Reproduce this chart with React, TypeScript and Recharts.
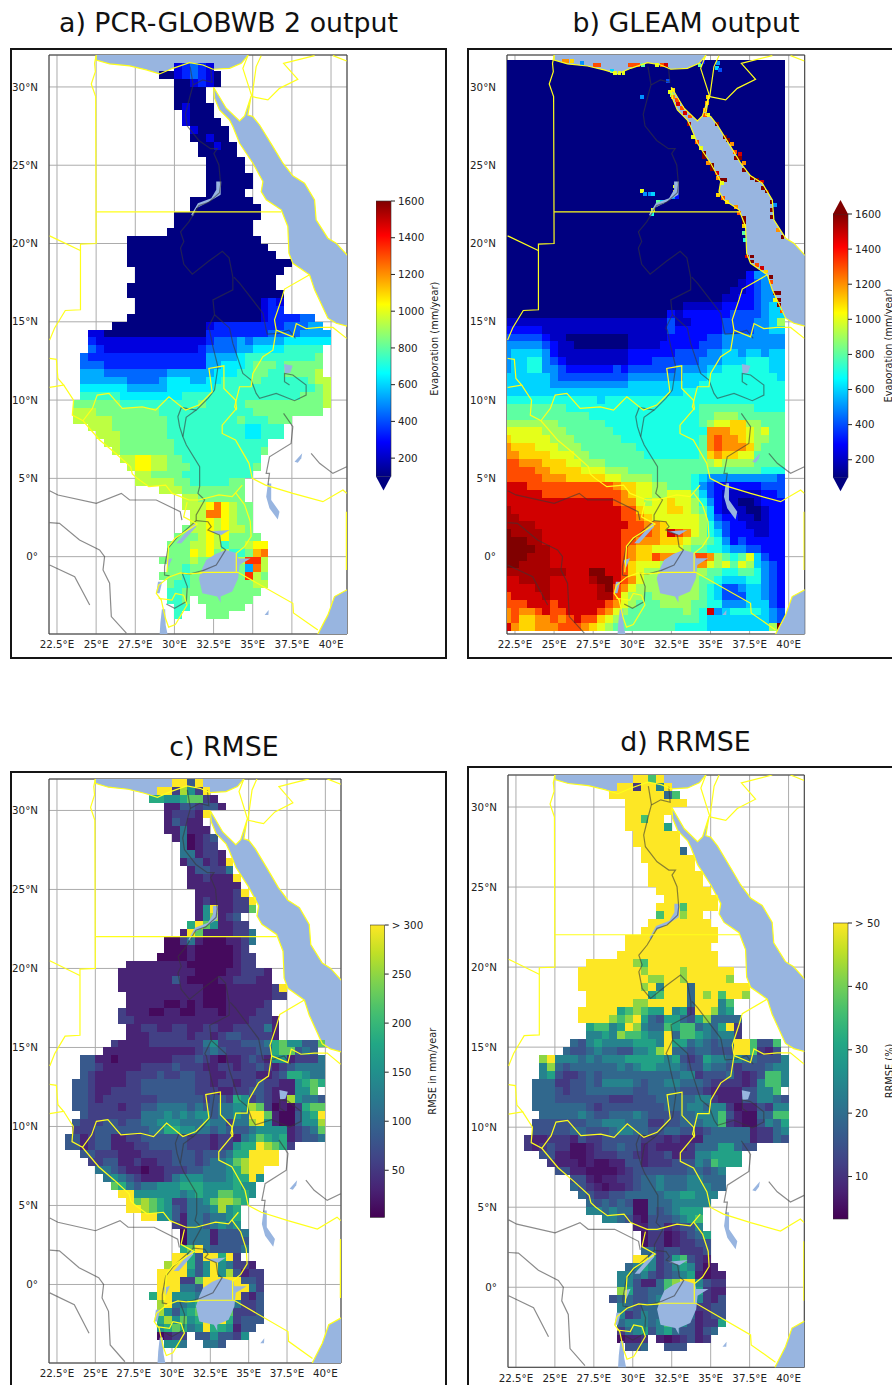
import React from 'react';
import { ScatterChart, Scatter, XAxis, YAxis, CartesianGrid, ReferenceArea } from 'recharts';

type Row = [number, string];
type Pt = [number, number];
type Spot = [number, number, string];

const lonTicks = [22.5, 25, 27.5, 30, 32.5, 35, 37.5, 40];
const latTicks = [0, 5, 10, 15, 20, 25, 30];
const evapTicks = [200, 400, 600, 800, 1000, 1200, 1400, 1600];
const rmseTicks = [50, 100, 150, 200, 250, 300];
const rrmseTicks = [10, 20, 30, 40, 50];

// value of each digit in the RMSE / RRMSE rows (evaporation rows use base 36 x 100)
const rmseLevels = [10, 32, 58, 85, 118, 150, 185, 225, 260, 300];
const rrmseLevels = [5.5, 8, 11, 15, 19, 24, 30, 36, 42, 50];

// rows run north to south in half degree steps, [first column, values]; '.' is no data
const pcrRows: Row[] = [
  [0, ''], [16, '23432'], [14, '11234321'], [16, '112321'], [16, '1111'], [16, '1111'], [16, '12111'], [17, '2111'],
  [17, '21111'], [18, '21111'], [18, '11211'], [19, '11211'], [19, '11111'], [20, '11111'], [20, '11111'], [20, '111111'],
  [20, '111111'], [20, '11111'], [18, '11111111'], [18, '111111111'], [16, '11111111111'], [16, '1111111111'],
  [15, '11111111111'], [10, '11111111111111111'], [10, '111111111111111111'], [10, '1111111111111111111'],
  [10, '111111111111111111111'], [11, '1111111111111111111'], [11, '111111111111111111'], [10, '1111111111111111111'],
  [10, '11111111111111111111'], [11, '1111111111111111232'], [11, '1111111111111111233'],
  [10, '11111111111111111 2333344'],
  [8, '111111111111 2333333 33344455'],
  [5, '221111111111111 333333 3344445555'],
  [5, '322222222222222 3444 5455 5566 6666'],
  [5, '432222222222223 4444 5566 6677 777'],
  [4, '4333333333333333 5555 6777 7777 778'],
  [4, '4443333333333333 5566 6788 8788 888'],
  [4, '5554444444455555 5666 7788 7788 889'],
  [4, '5555554444566655 6677 7787 7777 7899'],
  [4, '6666665555566666 6777 7777 7777 7789'],
  [4, '7777766666666777 7777 7777 7777 8889'],
  [3, '8 8888877777777778 7777 7888 8888 8889'],
  [3, '9 9988888888777777 7777 7788 8888 888'],
  [3, '9 9999888888877777 7777 8777 888'],
  [5, '999888888877777 7777 7667 77'],
  [6, '99988888877777 7777 7667 77'],
  [7, '9988888887777 7777 7777'],
  [8, '988888887777 7777 7778'],
  [9, '99aa9988777 7777 777'],
  [10, '9aa9988877 7777 778'],
  [11, '998888777 7777 77'],
  [11, '999998877 7778 8'],
  [14, '999888 8888 8'],
  [17, '9988 8888'],
  [17, '999acа988'.replace('а', 'a')],
  [18, '99cca988'],
  [18, '99a9a988'],
  [17, '899a9a998'],
  [16, '8889a9a8888'],
  [15, '88899a97889aa'],
  [15, '888a9a89778bc'],
  [14, '88889888889dd9'],
  [15, '88788888885c9'],
  [14, '88878888888d98'],
  [15, '8778888888899'],
  [15, '778888888888'],
  [15, '778.8888888'],
  [16, '77..88888'],
  [16, '7...888'],
];

// GLEAM grid is offset a quarter degree and runs under the sea fill
const gleamRows: Row[] = [
  ...Array.from({ length: 27 }, (): Row => [0, '111111 111111 111111 111111 111111 111111']),
  [0, '111111 111111 111111 111111 111111 135551'],
  [0, '111111 111111 111111 111111 111111 234555'],
  [0, '111111 111111 111111 111111 111112 234555'],
  [0, '111111 111111 111111 111111 111122 334555'],
  [0, '111111 111111 111111 111112 222233 334566'],
  [0, '111111 111111 111111 111323 333334 444566'],
  [0, '222222 222222 222222 222422 333344 445569'],
  [0, '333332 222222 222222 222433 333344 445566'],
  [0, '444443 221111 111122 222333 334455 555555'],
  [0, '555554 322111 111122 223333 344455 555555'],
  [0, '566665 322222 222233 333344 445566 566566'],
  [0, '566775 432222 222233 344444 455566 677766'],
  [0, '566775 543333 334344 444455 556677 777766'],
  [0, '666666 544444 444455 555556 667777 777776'],
  [0, '666666 555555 555566 666666 677777 777777'],
  [0, '666666 666666 666666 666667 777777 777777'],
  [0, '777777 777777 677777 777777 777777 777777'],
  [0, '888888 887777 777777 777777 788888 887777'],
  [0, '888888 888887 777777 777777 788999 888888'],
  [0, '999999 988888 877777 777777 789aab b99888'],
  [0, 'aaaaa9 998888 887777 777777 77cccb ba9a88'],
  [0, 'baaaaa 999888 888777 777777 78cdcc ba9988'],
  [0, 'cbbbaa a99988 888887 777777 78cdcc cb9888'],
  [0, 'ccbbbb aaa998 888888 777777 78bcbb aa8888'],
  [0, 'ddcccb bbaa99 988888 888888 889a99 998888'],
  [0, 'ddddcc bbbbaa a99988 888888 888888 888777'],
  [0, 'dddddc ccbbbb baa999 988888 765555 555554'],
  [0, 'eeeddd dddddd ddcbba a99888 754333 333444'],
  [0, 'eeeeed dddddd dddcba a99aaa 864322 222334'],
  [0, 'eeeeee eeeeee eedcca 9aabaa 975322 112333'],
  [0, 'feeeee eeeeee eeeddb aaabba 986322 211233'],
  [0, 'ffeeee eeeeee eeeddc baaaaa a96433 221233'],
  [0, 'ffffee eeeeee eeeedd ccbaaa a97543 322233'],
  [0, 'gffffe eeeeee eeeddd dcbedc a97643 332233'],
  [0, 'gggffe eeeeee eeeddc ccbbba 998753 433333'],
  [0, 'ggggff eeeeee eeedcb baaaa9 887765 544333'],
  [0, 'gggfff eeeeee eeedcb bdcccd ddc987 8a6433'],
  [0, 'ggffff eeeeee eeedba aa9999 cca9a8 a96543'],
  [0, 'ffffff ffeeeg geedba 999999 998877 887543'],
  [0, 'eeffff eeeeef ggedca 999999 988766 677543'],
  [0, 'eeeeff eeeeee fgdca9 999999 987644 566543'],
  [0, 'deeeef eeeeee ffda99 899999 987644 466543'],
  [0, 'dddeee deeeee edca98 889999 887755 566643'],
  [0, 'cdccde ddeeee dca988 888889 87e567 777654'],
  [0, 'cdbbcc dcdedd ba9888 888888 876666 666654'],
  [0, 'ecbbcc cdddcb a98888 888877 776666 66669g'],
];

// quarter degree GLEAM cells along the coasts and Lake Nasser: lon, lat, base 36 value
const gleamCoast: Spot[] = [
  [32.41, 29.7, 'a'], [32.63, 29.81, 'b'], [32.52, 29.49, '9'], [32.63, 29.38, 'c'], [32.84, 29.17, 'd'], [32.95, 28.91, 'e'],
  [33.16, 28.64, 'd'], [33.37, 28.32, 'e'], [33.69, 28.11, 'd'], [34.86, 29.38, 'b'], [34.76, 28.96, 'c'], [34.65, 28.53, 'c'],
  [34.86, 28.21, 'a'], [34.65, 28.21, 'd'], [33.65, 27.64, 'f'], [33.9, 26.83, 'a'], [34.12, 26.51, 'd'], [34.37, 26.09, 'a'],
  [34.61, 25.77, 'g'], [34.61, 25.55, 'g'], [34.86, 25.13, 'c'], [35.12, 25.02, 'g'], [35.12, 24.74, 'g'], [35.39, 24.49, 'e'],
  [35.5, 24.17, 'c'], [35.71, 24.06, 'g'], [35.93, 24.06, 'g'], [35.71, 23.85, 'a'], [35.5, 23.11, 'b'], [35.82, 22.89, 'd'],
  [36.03, 22.68, 'b'], [36.61, 22.36, 'c'], [36.84, 21.94, 'd'], [37.14, 21.62, 'g'], [37.14, 21.4, 'g'], [37.14, 21.09, 'b'],
  [37.14, 20.66, '8'], [37.2, 20.23, '7'], [37.31, 19.17, 'e'], [37.63, 19.17, 'g'], [37.63, 18.85, 'g'], [37.95, 18.64, 'd'],
  [38.27, 18.43, 'e'], [38.54, 18.21, 'b'], [38.84, 17.89, 'g'], [38.84, 17.57, 'd'], [39.12, 16.83, 'g'], [39.39, 16.83, 'g'],
  [39.39, 16.4, 'g'], [39.39, 16.09, 'g'], [39.12, 16.4, 'a'], [39.54, 15.66, 'd'],
  [35.39, 27.64, 'g'], [35.93, 26.83, 'g'], [36.14, 26.62, 'g'], [36.35, 26.36, 'c'], [36.57, 25.87, 'd'], [36.63, 25.45, 'g'],
  [36.88, 25.45, 'g'], [36.88, 25.72, 'e'], [37.14, 25.13, 'c'], [37.14, 24.7, 'g'], [37.63, 24.17, 'g'], [37.95, 24.06, 'g'],
  [38.27, 23.96, 'e'], [38.37, 23.53, 'g'], [38.59, 23.32, 'g'], [38.9, 22.68, 'g'], [38.9, 22.15, 'g'], [38.9, 21.72, 'g'],
  [39.12, 22.47, '5'], [39.33, 20.87, 'c'], [39.6, 20.4, 'g'],
  [25.61, 31.66, 'c'], [25.86, 31.66, 'c'], [26.14, 31.66, 'b'], [26.78, 31.51, '5'], [27.63, 31.38, 'd'], [27.88, 31.38, 'd'],
  [28.69, 31.04, '6'], [28.9, 30.91, 'a'], [29.18, 30.91, 'a'], [29.44, 30.91, 'a'], [29.86, 31.38, 'd'], [30.12, 31.38, 'd'],
  [30.39, 31.38, 'd'], [30.71, 31.38, '8'], [31.56, 31.38, 'a'], [31.88, 31.38, 'd'], [32.14, 31.38, 'e'], [34.33, 31.4, '8'],
  [34.54, 31.62, '3'], [35.5, 31.51, '5'], [35.39, 31.19, '6'], [35.61, 31.09, '4'],
  [30.61, 29.38, '5'], [32.31, 30.38, '4'], [30.61, 23.38, 'a'], [30.82, 23.15, '5'], [31.1, 23.15, '5'], [31.35, 23.15, '6'],
  [31.67, 22.68, '8'], [31.88, 22.68, '6'], [31.35, 22.15, 'a'], [31.24, 21.87, '7'], [32.73, 23.64, 'a'], [32.73, 23.32, 'b'],
  [32.63, 23, '5'], [32.84, 23, '3'],
];

const rmseRows: Row[] = [
  [16, '9939'], [14, '9928529'], [13, '665567721'], [15, '11332331'], [15, '122219'], [15, '13211'], [15, '114111'],
  [16, '140123'], [17, '40122'], [17, '441221'], [17, '1331219'], [18, '133224'], [18, '1121119'], [18, '1111111'],
  [19, '1111129'], [19, '12111229'], [19, '15911227'], [19, '158123'], [18, '69751122'], [17, '1971111224'],
  [15, '002410001124'], [15, '00010000012'], [14, '0000100000122'], [10, '11111111000000122'],
  [9, '11111111110000112221'], [9, '11111113100001122211'], [9, '1111111111100011111129'],
  [10, '111111111100011111122'], [10, '1111100101000111112'], [9, '21110011001110111122'],
  [9, '221111111111111112221'], [10, '11221122112211222241'], [10, '11122222122123322221'],
  [8, '211112222222 452223334 6755337'],
  [7, '1111111111112 343222233 677343'],
  [4, '3311 0111 1111 2223 2101 1232 1551 2224'],
  [4, '3321 1111 2222 3222 1122 1223 2123 4444'],
  [4, '3211 1122 2232 2332 2112 2221 1236 6544'],
  [3, '3 3211 1122 3333 3332 2122 1223 2211 5676'],
  [3, '3 3211 2222 3333 3332 2211 2233 2111 557'],
  [3, '3 3212 2222 2233 3333 2332 6523 2118 5443'],
  [3, '3 3222 2122 3344 4434 3344 5587 2010 2677'],
  [4, '3222 2222 4445 4545 5344 5499 7100 3569'],
  [3, '3 2223 3233 4455 5444 5442 4489 5100 3558'],
  [3, '2 2233 3333 3446 6554 4343 3345 5551 2347'],
  [2, '33 1233 1122 3333 3322 2122 1457 6561 2334'],
  [2, '33 1233 1112 2333 3322 2122 5669 8762'],
  [4, '3322 2111 2222 3332 3334 6699 99'],
  [5, '223 3112 1122 3332 3445 7899 99'],
  [6, '44 3211 0112 2233 4445 6899'],
  [7, '4 5432 1112 4555 4445 6695'],
  [8, '7643 4455 5666 5555 655'],
  [9, '995 5555 5456 5577 665'],
  [10, '97 8765 2244 5788 76'],
  [10, '99 8765 3244 4585 6'],
  [12, '9955 3144 3445 6'],
  [16, '2144 3454 5'],
  [17, '044413334'],
  [17, '044413333'],
  [17, '679433334'],
  [16, '996399692'],
  [15, '899635954221'],
  [14, '99995359583122'],
  [14, '99922799999332'],
  [14, '99944399999942'],
  [13, '699555499999213'],
  [14, '89445699974223'],
  [14, '85356799972223'],
  [14, '68575699962333'],
  [14, '5676459665133'],
  [14, '0122.3353325'],
  [15, '554..443'],
];

const rrmseRows: Row[] = [
  [16, '9979'], [14, '9929959'], [13, '999999947'], [15, '99999999'], [15, '999999'], [15, '99799'], [15, '999996'],
  [16, '999999'], [16, '999999'], [17, '999994'], [17, '9999999'], [18, '999999'], [18, '9999999'], [18, '9999999'],
  [19, '9999999'], [20, '9999999'], [19, '99979999'], [19, '799899'], [18, '99999999'], [17, '9999999999'],
  [15, '999999999999'], [15, '99999999999'], [14, '9999999999999'], [10, '999999 87 999999999'],
  [9, '9999999 98 9999 8 999999'],
  [9, '9999999 99 8899 8 99999 8'],
  [9, '9999999 9 8 9 5 999 4 9999999'],
  [10, '99999999 67 999 4 989 7 99 8'],
  [10, '999999 88 99999 4 999 57'],
  [9, '99999 6 7 8 7 6 6 9 5 6 2 9 9 8 5 6'],
  [9, '9999 8 7 8 9 6 4 3 6 6 4 3 6 8 4 4 4 4'],
  [10, '6 7 7 5 6 9 8 5 4 4 7 6 7 7 4 5 4 6 9 2'],
  [10, '5 5 6 5 8 7 7 6 5 5 9 4 7 7 6 5 4 5 5 2'],
  [8, '4 3 5 6 5 5 5 5 6 6 6 5 9 6 6 4 5 4 3 4 4 9 9 7 3 3 7'],
  [7, '4 3 3 4 5 4 4 3 3 5 5 6 8 9 4 4 3 4 4 3 3 3 9 9 7 2 1 3'],
  [4, '8955 5454 5556 6666 5632 3655 4544 3335'],
  [4, '5843 4444 4454 5665 5543 3544 3233 3455'],
  [4, '5632 2343 4444 4444 4455 2333 4212 3775'],
  [3, '4 4422 3343 5555 4344 5544 4322 2212 5775'],
  [3, '4 4432 3344 4444 3344 4433 3211 1133 557'],
  [3, '4 4433 3333 3222 3334 4444 5521 1133 5543'],
  [3, '4 4444 4432 3333 3333 4445 5455 2011 3255'],
  [4, '4444 4543 3444 5433 3344 5557 3100 4477'],
  [3, '3 3333 3344 5554 4422 3344 4557 2100 3546'],
  [3, '3 3333 4433 3455 4433 4433 2344 4441 2245'],
  [2, '21 1222 1322 3333 3222 1211 1444 4441 2243'],
  [2, '21 2322 0012 3343 3121 1112 4446 6433'],
  [4, '3311 0012 2233 2122 3122 5566 66'],
  [5, '211 1010 0113 3122 2333 5476 66'],
  [6, '33 1100 0012 3333 3334 4345'],
  [8, '3310 1122 3445 4445 5444'],
  [8, '4321 0112 3445 4445 5544'],
  [9, '432 2334 4444 5566 555'],
  [10, '43 4343 0044 4555 55'],
  [10, '55 4544 0043 4566 6'],
  [12, '5543 1033 3456 7'],
  [16, '113312335'],
  [17, '022012346'],
  [17, '022012233'],
  [17, '442332223'],
  [16, '9952367321'],
  [15, '456523565201'],
  [14, '55453234561011'],
  [14, '55311478995322'],
  [14, '86334477776211'],
  [13, '344334599775213'],
  [14, '54344455552233'],
  [14, '52354466641233'],
  [14, '45554576531226'],
  [14, '2456356433134'],
  [14, '0112.1012312'],
  [15, '334..333'],
];

// outlines in lon/lat, shared by the four maps
const mediterranean: Pt[] = [[25, 32.5], [25, 31.72], [25.86, 31.47], [27.14, 31.34], [28.2, 31.09], [29.05, 30.83], [29.9, 31.19], [30.97, 31.55], [31.82, 31.4], [32.46, 31.13], [33.52, 31.19], [34.27, 31.51], [34.69, 32], [34.9, 32.5]];
const redSea: Pt[] = [[32.5, 29.98], [33.31, 28.64], [34.16, 27.83], [34.48, 28.15], [34.9, 29.43], [34.69, 28.21], [35.01, 28.11], [35.44, 27.57], [36.29, 26.19], [36.93, 25.13], [37.56, 24.32], [38.31, 23.85], [38.95, 22.79], [39.05, 21.51], [39.8, 20.34], [40.33, 20.02], [41.01, 19.28], [41.5, 18.9], [41.5, 14.6], [40.33, 14.91], [39.8, 15.23], [38.95, 17.04], [38.63, 18], [37.56, 18.74], [37.31, 19.38], [37.24, 21.09], [36.82, 22.15], [35.86, 22.79], [35.54, 23.32], [35.65, 23.96], [35.01, 25.13], [34.16, 26.4], [33.73, 27.47], [33.52, 27.89], [32.88, 28.53], [32.56, 29.28], [32.5, 29.98]];
const indianOcean: Pt[] = [[39.0, -5.5], [39.16, -4.94], [39.8, -3.72], [40.22, -2.55], [41, -2.13], [41.5, -1.9], [41.5, -5.5], [39.0, -5.5]];

const lakeVictoria: Pt[] = [[31.78, -0.74], [32.03, -0.21], [32.63, 0.17], [33.27, 0.43], [34.01, 0.21], [34.07, -0.11], [34.86, -0.11], [34.44, -0.36], [34.16, -0.53], [34.07, -1.38], [33.69, -2.23], [32.95, -2.55], [32.95, -2.94], [32.73, -2.55], [31.78, -2.34], [31.56, -1.38]];
const lakeTurkana: Pt[] = [[35.97, 4.68], [36.18, 4.68], [36.18, 3.62], [36.71, 2.87], [36.6, 2.38], [36.07, 3.09], [35.86, 3.83]];
const lakeTana: Pt[] = [[37, 12.3], [37.55, 12.2], [37.4, 11.75], [37.05, 11.7]];
const lakeAlbert: Pt[] = [[30.12, 0.85], [31.3, 2.17], [31.39, 1.91], [30.44, 0.85]];
const lakeKyoga: Pt[] = [[32.24, 1.6], [33.52, 1.7], [33, 1.38]];
const lakeEdward: Pt[] = [[29.44, -0.21], [29.86, -0.1], [29.58, -0.74]];
const lakeKivu: Pt[] = [[28.95, -1.6], [28.84, -2.34], [29.05, -2.34], [29.22, -1.6]];
const lakeTanganyika: Pt[] = [[29.2, -3.36], [29.41, -3.36], [29.44, -4.36], [29.59, -5.1], [29.05, -5.1], [29.1, -4.26]];
const lakeAbaya: Pt[] = [[37.67, 6.06], [38.16, 6.6], [38.1, 6.28], [37.88, 6]];
const lakeNatron: Pt[] = [[35.76, -3.72], [36.02, -3.4], [36, -3.72]];
const lakeNasser: Pt[] = [[32.67, 23.96], [32.99, 23.96], [32.95, 23.11], [32.03, 22.57], [31.39, 22.26], [31.18, 21.72], [31.07, 21.83], [31.5, 22.57], [32.35, 22.89], [32.67, 23.43]];

const mainNile: Pt[] = [[31.19, 30.12], [31.02, 29.5], [30.7, 28.25], [30.81, 27.52], [31.56, 26.58], [32.31, 26.06], [32.74, 26.06], [32.52, 25.75], [32.84, 25.02], [32.95, 23.77], [32.88, 23.25], [32.2, 22.63], [31.56, 22.42], [30.92, 21.38], [30.39, 20.75], [30.6, 20.13], [30.39, 19.71], [30.6, 18.67], [31.14, 18.04], [32.2, 18.88], [33.06, 19.5], [33.49, 19.08], [33.73, 17.85], [33.73, 17.04], [32.46, 16.4], [32.56, 15.45], [32.14, 14.6], [32.24, 14.47], [32.46, 13.4], [32.78, 12.13], [32.56, 10.64], [32.14, 10.11], [31.39, 9.36], [30.44, 9.53], [30.22, 8.94], [30.33, 8.3], [30.54, 7.66], [30.76, 7.13], [31.61, 5.74], [31.61, 4.47], [31.5, 4.04], [31.93, 3.62], [31.39, 2.66], [31.39, 2.3]];
const deltaEast: Pt[] = [[32.31, 31.27], [32.4, 30.3], [31.8, 30.45], [31.19, 30.12]];
const deltaWest: Pt[] = [[31.0, 31.3], [31.2, 30.12]];
const nileBranch: Pt[] = [[31.39, 9.36], [30.75, 8.9], [30.54, 7.66]];
const atbara: Pt[] = [[33.8, 17.85], [34.16, 17.47], [35.65, 15.55], [35.86, 14.49], [35.93, 14.21], [36.67, 14.26], [37.31, 14.47], [37.73, 13.94]];
const victoriaNile: Pt[] = [[31.39, 2.3], [32.14, 2.23], [32.35, 1.91], [32.14, 1.7], [32.88, 1.38], [32.99, 0.64], [33.27, 0.43], [32.67, -0.53], [31.82, -0.89]];
const semliki: Pt[] = [[31.39, 2.3], [30.12, 1.17], [29.59, 0.53], [29.37, -0.64], [29.37, -1.17], [29.69, -1.23]];
const kagera: Pt[] = [[31.82, -0.89], [30.97, -1.11], [30.5, -1.06], [30.82, -1.91], [30.76, -2.87], [30.01, -3.3], [29.48, -3.02]];
const blueNile: Pt[] = [[32.56, 15.45], [33.52, 14.6], [33.73, 13.62], [34.37, 11.7], [34.9, 11.28], [35.22, 10.43], [35.44, 10.11], [36.5, 10.43], [37.67, 9.96], [38.41, 10.32], [38.41, 10.96], [37.56, 11.6], [37.03, 11.7], [37.03, 11.17], [37.35, 10.96]];
const sobat: Pt[] = [[36.97, 9.15], [37.56, 8.3], [37.45, 7.23], [36.07, 6.38], [35.86, 5.32], [36.07, 5.32], [35.97, 4.57]];
const omoEast: Pt[] = [[38.73, 6.6], [39.27, 5.96], [40.12, 5.32], [41, 5.74]];
const ubangi: Pt[] = [[22.03, 4.21], [22.56, 3.94], [25.01, 3.4], [26.61, 4.04], [27.14, 3.62], [28.84, 3.62], [30.37, 2.87], [30.48, 2.34]];
const congoNorth: Pt[] = [[22.03, 2.17], [22.66, 2.13], [23.94, 1.06], [25.22, 0.43], [25.54, 0], [25.44, -0.85], [25.86, -1.7], [25.97, -3.83], [26.93, -4.89]];
const congoSouth: Pt[] = [[22.03, -0.53], [23.63, -1.28], [24.59, -3.09]];

const libyaEgypt: Pt[] = [[25, 32], [24.9, 31.51], [24.95, 30.98], [24.69, 30.19], [24.97, 29.38], [25, 20], [24, 19.96], [24, 15.77], [23.03, 15.72], [22.67, 15.13], [22.35, 14.6], [22.03, 13.83]];
const libyaChad: Pt[] = [[22.03, 20.49], [23.99, 19.55]];
const egyptSudan: Pt[] = [[25, 22.02], [36.82, 22.02]];
const israelEgypt: Pt[] = [[34.69, 32], [34.37, 31.19], [34.95, 29.38]];
const jordanValley: Pt[] = [[35.54, 32], [35.22, 31.3], [34.95, 29.38]];
const jordanEast: Pt[] = [[34.95, 29.38], [35.97, 29.17], [36.71, 29.91], [37.88, 30.49], [36.97, 31.51], [38.95, 32]];
const iraqCorner: Pt[] = [[40.12, 32], [41, 31.66]];
const sudanEast: Pt[] = [[38.63, 18], [37.03, 17.09], [36.82, 16.4], [36.39, 15.13], [36.5, 14.47], [36.29, 13.19], [35.65, 12.77], [35.01, 11.7], [34.9, 10.85], [34.16, 10.85], [33.84, 9.57], [33.97, 9.36]];
const eritrea: Pt[] = [[36.5, 14.47], [37.56, 14.04], [37.78, 14.89], [38.41, 14.57], [39.27, 14.64], [40.12, 14.64], [41, 13.94]];
const chadCar: Pt[] = [[22.03, 12.66], [22.46, 12.6], [22.56, 11.38], [22.93, 10.96], [22.03, 10.81]];
const carSudan: Pt[] = [[22.93, 10.96], [23.56, 10], [23.48, 9.04], [24.16, 8.68], [25.22, 7.45], [26.24, 6.6], [27.2, 5.74], [27.31, 5.28], [27.63, 5], [28.37, 4.47], [29.44, 4.57], [29.86, 4.04], [30.93, 3.62], [31.56, 3.62], [32.84, 3.94], [33.69, 3.83], [34.33, 4.57]];
const sudanSouth: Pt[] = [[24.16, 8.68], [24.76, 9.47], [25.07, 10.32], [25.82, 10.43], [26.67, 9.47], [27.95, 9.57], [28.8, 9.36], [29.65, 10.21], [30.71, 9.36], [31.56, 9.68], [32.41, 10.53], [32.2, 12.02], [33.16, 12.19], [33.16, 10.74], [33.9, 10], [33.97, 9.47], [33.05, 8.4], [33.05, 7.87], [33.9, 7.45], [34.76, 5.96], [34.97, 5], [35.82, 4.57], [37.56, 4.04], [39.48, 3.51], [40.76, 4.26], [41, 4.04]];
const kenyaUganda: Pt[] = [[33.9, 4.09], [34.48, 3.32], [34.84, 2.25], [34.9, 1.3], [34.48, 0.64], [33.95, 0.21], [33.95, -0.96]];
const tanzaniaNorth: Pt[] = [[31.6, -1], [34.05, -1], [37.56, -2.98], [37.6, -3.6], [39.16, -4.68]];
const greatLakesWest: Pt[] = [[31.77, -1.04], [30.92, -1.1], [30.38, -1.04], [29.63, -1.31], [28.99, -1.83], [28.84, -2.35], [29.16, -2.77], [29.42, -3.92], [29.63, -4.5], [30.06, -4.33], [30.81, -3.08], [30.59, -2.46], [30.06, -2.35], [29.84, -2.77], [28.99, -2.67]];
const drcUganda: Pt[] = [[29.52, -1], [29.63, 0.67], [30.06, 1.19], [31.45, 2.08], [30.59, 2.54], [30.81, 3.48]];
const somaliaEdge: Pt[] = [[40.98, 2.87], [40.98, -0.85]];

const seas = [mediterranean, redSea, indianOcean];
const lakes = [lakeVictoria, lakeTurkana, lakeTana, lakeAlbert, lakeKyoga, lakeEdward, lakeKivu, lakeTanganyika, lakeAbaya, lakeNatron, lakeNasser];
const rivers = [mainNile, deltaEast, deltaWest, nileBranch, atbara, victoriaNile, semliki, kagera, blueNile, sobat, omoEast, ubangi, congoNorth, congoSouth];
const borders = [libyaEgypt, libyaChad, egyptSudan, israelEgypt, jordanValley, jordanEast, iraqCorner, sudanEast, eritrea, chadCar, carSudan, sudanSouth, kenyaUganda, tanzaniaNorth, greatLakesWest, drcUganda, somaliaEdge];

const WATER = '#98b5e0';
const YELLOW = '#ffff1a';
const TEXT = '#222222';
const FONT = '"DejaVu Sans", sans-serif';

const clip01 = (v: number) => Math.max(0, Math.min(1, v));
const hex = (v: number) => Math.round(clip01(v) * 255).toString(16).padStart(2, '0');

const jet = (t: number) =>
  `#${hex(1.5 - Math.abs(4 * t - 3))}${hex(1.5 - Math.abs(4 * t - 2))}${hex(1.5 - Math.abs(4 * t - 1))}`;

const viridisStops = [
  [68, 1, 84], [72, 36, 117], [65, 68, 135], [53, 95, 141], [42, 120, 142], [33, 145, 140],
  [34, 168, 132], [68, 191, 112], [122, 209, 81], [189, 223, 38], [253, 231, 37],
];
const viridis = (t: number) => {
  const p = clip01(t) * 10;
  const i = Math.min(9, Math.floor(p));
  const f = p - i;
  const c = viridisStops[i].map((v, k) => (v + (viridisStops[i + 1][k] - v) * f) / 255);
  return `#${hex(c[0])}${hex(c[1])}${hex(c[2])}`;
};

type Cell = { lon: number; lat: number; value: number };

const buildCells = (rows: Row[], lonStart: number, latTop: number, decode: (c: string) => number): Cell[] => {
  const cells: Cell[] = [];
  rows.forEach(([start, text], j) => {
    text.replace(/\s/g, '').split('').forEach((c, i) => {
      if (c === '.') return;
      cells.push({ lon: lonStart + (start + i) * 0.5 + 0.25, lat: latTop - j * 0.5 - 0.25, value: decode(c) });
    });
  });
  return cells;
};

const hundreds = (c: string) => parseInt(c, 36) * 100;
// the PCR greens sit a little above the round levels
const pcrValue = (c: string) => (c === '1' ? 100 : hundreds(c) + 40);
const gleamValue = (c: string) => (c === 'e' ? 1480 : c === 'f' ? 1540 : hundreds(c));

const NoDot = () => <g />;

const toPoints = (pts: Pt[]) => pts.map(([lon, lat]) => ({ lon, lat }));

interface MapProps {
  left: number; top: number; w: number; h: number;
  lon: [number, number]; lat: [number, number];
  cells: Cell[];
  fine?: Cell[];
  seaOnTop?: boolean;
  color: (value: number) => string;
}

const RasterMap = ({ left, top, w, h, lon, lat, cells, fine, seaOnTop, color }: MapProps) => {
  const cw = (w / (lon[1] - lon[0])) * 0.5;
  const ch = (h / (lat[1] - lat[0])) * 0.5;
  const cellShape = (p: any) => (
    <rect x={p.cx - cw / 2} y={p.cy - ch / 2} width={cw} height={ch} fill={color(p.payload.value)} shapeRendering="crispEdges" />
  );
  const fineShape = (p: any) => (
    <rect x={p.cx - cw / 4} y={p.cy - ch / 4} width={cw / 2} height={ch / 2} fill={color(p.payload.value)} shapeRendering="crispEdges" />
  );
  const seaLayer = seas.map((s, i) => (
    <Scatter key={`sea${i}`} data={toPoints(s)} shape={NoDot} isAnimationActive={false}
      line={{ fill: WATER, stroke: 'none' }} lineType="joint" />
  ));
  return (
    <div style={{ position: 'absolute', left: left - 45, top: top - 2 }}>
      <ScatterChart width={w + 47} height={h + 26} margin={{ top: 2, right: 2, bottom: 0, left: 2 }}>
        <XAxis
          type="number" dataKey="lon" domain={lon} allowDataOverflow ticks={lonTicks} interval={0}
          height={24} axisLine={false} tickLine={false} tickMargin={1}
          tick={{ fontSize: 10.3, fill: TEXT, fontFamily: FONT }}
          tickFormatter={(v: number) => `${v}°E`}
        />
        <YAxis
          type="number" dataKey="lat" domain={lat} allowDataOverflow ticks={latTicks} interval={0}
          width={43} axisLine={false} tickLine={false} tickMargin={5}
          tick={{ fontSize: 10.3, fill: TEXT, fontFamily: FONT }}
          tickFormatter={(v: number) => (v === 0 ? '0°' : `${v}°N`)}
        />
        {!seaOnTop && seaLayer}
        <Scatter data={cells} shape={cellShape} isAnimationActive={false} />
        {seaOnTop && seaLayer}
        {fine && <Scatter data={fine} shape={fineShape} isAnimationActive={false} />}
        {lakes.map((s, i) => (
          <Scatter key={`lake${i}`} data={toPoints(s.concat([s[0]]))} shape={NoDot} isAnimationActive={false}
            line={{ fill: WATER, stroke: 'none' }} lineType="joint" />
        ))}
        {rivers.map((s, i) => (
          <Scatter key={`river${i}`} data={toPoints(s)} shape={NoDot} isAnimationActive={false}
            line={{ stroke: 'rgba(55,55,55,0.58)', strokeWidth: 1.2, fill: 'none' }} lineType="joint" />
        ))}
        {seas.map((s, i) => (
          <Scatter key={`coast${i}`} data={toPoints(s)} shape={NoDot} isAnimationActive={false}
            line={{ stroke: YELLOW, strokeWidth: 1.2, fill: 'none' }} lineType="joint" />
        ))}
        {borders.map((s, i) => (
          <Scatter key={`border${i}`} data={toPoints(s)} shape={NoDot} isAnimationActive={false}
            line={{ stroke: YELLOW, strokeWidth: 1.2, fill: 'none' }} lineType="joint" />
        ))}
        <CartesianGrid stroke="#acacac" strokeWidth={1} />
        <ReferenceArea x1={lon[0]} x2={lon[1]} y1={lat[0]} y2={lat[1]} fill="none" stroke="#3c3c3c" strokeWidth={1} ifOverflow="visible" />
      </ScatterChart>
    </div>
  );
};

interface BarProps {
  id: string; left: number; top: number; w: number; h: number;
  domain: [number, number]; ticks: number[]; top2?: boolean; bottom2?: boolean;
  label: string; labelDx: number;
  color: (t: number) => string;
  format?: (v: number) => string;
}

const ColorBar = ({ id, left, top, w, h, domain, ticks, top2, bottom2, label, labelDx, color, format }: BarProps) => {
  const stops = Array.from({ length: 33 }, (_, i) => i / 32);
  const bar = (p: any) => {
    const { x, y, width, height } = p;
    const mid = x + width / 2;
    return (
      <g>
        <rect x={x} y={y} width={width} height={height} fill={`url(#${id})`} stroke="#333" strokeWidth={0.6} />
        {top2 && <path d={`M${x} ${y}L${mid} ${y - 14}L${x + width} ${y}Z`} fill={color(1)} />}
        {bottom2 && <path d={`M${x} ${y + height}L${mid} ${y + height + 14}L${x + width} ${y + height}Z`} fill={color(0)} />}
        <text
          x={x + width + labelDx} y={y + height / 2} fontSize={9.8} fontFamily={FONT} fill={TEXT}
          textAnchor="middle" dominantBaseline="central"
          transform={`rotate(-90 ${x + width + labelDx} ${y + height / 2})`}
        >{label}</text>
      </g>
    );
  };
  return (
    <div style={{ position: 'absolute', left, top: top - 16 }}>
      <ScatterChart width={w + 60} height={h + 32} margin={{ top: 16, right: 0, bottom: 16, left: 0 }}>
        <defs>
          <linearGradient id={id} x1="0" y1="1" x2="0" y2="0">
            {stops.map((t) => <stop key={t} offset={t} stopColor={color(t)} />)}
          </linearGradient>
        </defs>
        <XAxis type="number" dataKey="x" domain={[0, 1]} hide />
        <YAxis
          type="number" dataKey="y" orientation="right" domain={domain} ticks={ticks} interval={0} width={60}
          axisLine={false} tickSize={4} tickMargin={3} tickLine={{ stroke: '#222' }}
          tick={{ fontSize: 10.3, fill: TEXT, fontFamily: FONT }}
          tickFormatter={format}
        />
        <Scatter data={[{ x: 0, y: domain[0] }, { x: 1, y: domain[1] }]} shape={NoDot} isAnimationActive={false} />
        <ReferenceArea x1={0} x2={1} y1={domain[0]} y2={domain[1]} shape={bar} ifOverflow="visible" />
      </ScatterChart>
    </div>
  );
};

const Title = ({ text, cx, cy }: { text: string; cx: number; cy: number }) => (
  <div style={{
    position: 'absolute', left: cx - 220, width: 440, top: cy - 18, height: 36, lineHeight: '36px',
    textAlign: 'center', fontFamily: FONT, fontSize: 26.8, color: '#111',
  }}>{text}</div>
);

const Frame = ({ left, top, width, height }: { left: number; top: number; width: number; height: number }) => (
  <div style={{ position: 'absolute', left, top, width, height, boxSizing: 'border-box', border: '2px solid #151515' }} />
);

const pcrCells = buildCells(pcrRows, 22, 32, pcrValue);
const gleamCells = buildCells(gleamRows, 21.75, 31.75, gleamValue);
const gleamFine: Cell[] = gleamCoast.map(([lon, lat, c]) => ({ lon, lat, value: gleamValue(c) }));
const rmseCells = buildCells(rmseRows, 22, 32, (c) => rmseLevels[+c]);
const rrmseCells = buildCells(rrmseRows, 22, 32, (c) => rrmseLevels[+c]);

const evapColor = (v: number) => jet((v - 100) / 1500);
const rmseColor = (v: number) => viridis((v - 2) / 298);
const rrmseColor = (v: number) => viridis((v - 3.3) / 46.7);

const App = () => (
  <div style={{ position: 'absolute', left: 0, top: 0, width: 892, height: 1385, overflow: 'hidden', background: '#fff' }}>
    <Frame left={10} top={48} width={437} height={611} />
    <Frame left={467} top={48} width={460} height={611} />
    <Frame left={10} top={771} width={437} height={660} />
    <Frame left={467} top={766} width={460} height={660} />

    <Title text="a) PCR-GLOBWB 2 output" cx={228.5} cy={23} />
    <Title text="b) GLEAM output" cx={686} cy={23} />
    <Title text="c) RMSE" cx={224} cy={747} />
    <Title text="d) RRMSE" cx={685.5} cy={742} />

    <RasterMap left={49.3} top={55} w={298} h={579} lon={[21.99, 41.02]} lat={[-4.94, 32.04]} cells={pcrCells} color={evapColor} />
    <RasterMap left={507} top={55} w={297.7} h={579} lon={[21.99, 41.02]} lat={[-4.94, 32.04]} cells={gleamCells} fine={gleamFine} seaOnTop color={evapColor} />
    <RasterMap left={49.3} top={779.3} w={292} h={584} lon={[21.98, 41.02]} lat={[-4.97, 31.99]} cells={rmseCells} color={rmseColor} />
    <RasterMap left={507.7} top={775} w={296.3} h={592.3} lon={[21.99, 41.01]} lat={[-5, 32]} cells={rrmseCells} color={rrmseColor} />

    <ColorBar id="evapA" left={376} top={200.5} w={15} h={275.5} domain={[100, 1600]} ticks={evapTicks} bottom2 label="Evaporation (mm/year)" labelDx={43} color={jet} />
    <ColorBar id="evapB" left={833.3} top={214} w={15} h={263.3} domain={[100, 1600]} ticks={evapTicks} top2 bottom2 label="Evaporation (mm/year)" labelDx={41} color={jet} />
    <ColorBar id="rmse" left={370} top={925.3} w={14.7} h={292.4} domain={[2, 300]} ticks={rmseTicks} label="RMSE in mm/year" labelDx={48} color={viridis} format={(v) => (v === 300 ? '> 300' : `${v}`)} />
    <ColorBar id="rrmse" left={833.3} top={923.3} w={15} h={296} domain={[3.3, 50]} ticks={rrmseTicks} label="RRMSE (%)" labelDx={41} color={viridis} format={(v) => (v === 50 ? '> 50' : `${v}`)} />
  </div>
);

export default App;
